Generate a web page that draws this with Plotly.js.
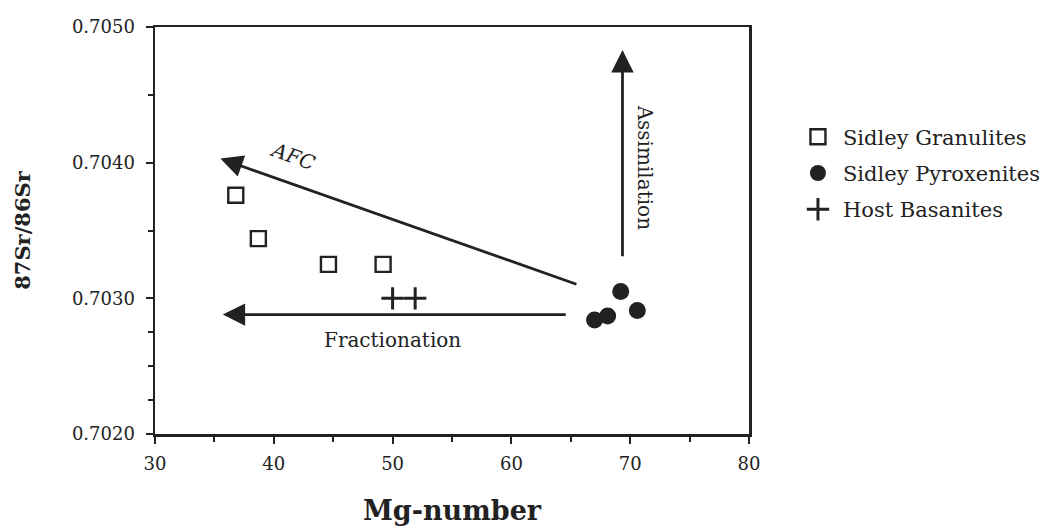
<!DOCTYPE html>
<html>
<head>
<meta charset="utf-8">
<script src="https://cdn.plot.ly/plotly-3.0.1.min.js"></script>
<style>html,body{margin:0;padding:0;background:#fff;}#chart{width:1063px;height:532px;}</style>
</head>
<body>
<div id="chart"></div>
<script>
// Sidley Granulites (open squares)
const granMg = [36.8, 38.7, 44.6, 49.2];
const granSr = [0.70376, 0.70344, 0.70325, 0.70325];
// Sidley Pyroxenites (filled circles)
const pyxMg = [67.0, 68.1, 69.2, 70.6];
const pyxSr = [0.70284, 0.70287, 0.70305, 0.70291];
// Host Basanites (crosses)
const basMg = [50.0, 51.9];
const basSr = [0.70300, 0.70300];

// Process arrows: [tailX, tailY], [headX, headY]
const arrowNames = ["AFC", "Fractionation", "Assimilation"];
const arrowTail = [[65.6, 0.70310], [64.7, 0.70288], [69.35, 0.70330]];
const arrowHead = [[35.5, 0.70403], [35.7, 0.70288], [69.35, 0.70483]];
// Arrow label positions and angles
const labelPos = [[41.6, 0.70405], [50.0, 0.70269], [71.2, 0.70396]];
const labelAngle = [20, 0, 90];

const xTicks = [30, 40, 50, 60, 70, 80];
const yTicks = [0.7020, 0.7030, 0.7040, 0.7050];
const yTickText = ["0.7020", "0.7030", "0.7040", "0.7050"];

const serif = "DejaVu Serif, Liberation Serif, serif";
const ink = "#222";

const traces = [
  {x: granMg, y: granSr, mode: "markers", type: "scatter", name: "Sidley Granulites", legendgroup: "g1",
   marker: {symbol: "square-open", size: 15, color: ink, line: {width: 2.4, color: ink}}},
  {x: pyxMg, y: pyxSr, mode: "markers", type: "scatter", name: "Sidley Pyroxenites", legendgroup: "g2",
   marker: {symbol: "circle", size: 17, color: ink}},
  {x: basMg, y: basSr, mode: "markers", type: "scatter", name: "Host Basanites", legendgroup: "g3",
   marker: {symbol: "cross-thin-open", size: 16, color: ink, line: {width: 3, color: ink}}}
];

const annotations = [];
for (let i = 0; i < arrowNames.length; i++) {
  annotations.push({
    x: arrowHead[i][0], y: arrowHead[i][1], ax: arrowTail[i][0], ay: arrowTail[i][1],
    xref: "x", yref: "y", axref: "x", ayref: "y",
    showarrow: true, arrowhead: 2, arrowsize: 1.6, arrowwidth: 2.8, arrowcolor: ink, text: ""
  });
  annotations.push({
    x: labelPos[i][0], y: labelPos[i][1], xref: "x", yref: "y", showarrow: false,
    text: i === 0 ? "<i>" + arrowNames[i] + "</i>" : arrowNames[i],
    textangle: labelAngle[i], font: {family: serif, size: 20, color: ink}
  });
}

const axisCommon = {
  showline: true, linecolor: ink, linewidth: 2.5, mirror: true,
  showgrid: false, zeroline: false, ticks: "outside", ticklen: 7, tickwidth: 2, tickcolor: ink,
  tickfont: {family: serif, size: 18, color: ink}
};

const layout = {
  width: 1063, height: 532,
  margin: {l: 155, r: 314, t: 27, b: 98},
  paper_bgcolor: "#fff", plot_bgcolor: "#fff",
  showlegend: true,
  legend: {x: 1.074, y: 0.78, xanchor: "left", yanchor: "top", font: {family: serif, size: 21, color: ink},
           bgcolor: "rgba(0,0,0,0)", traceorder: "grouped", tracegroupgap: 6, itemwidth: 40},
  xaxis: Object.assign({}, axisCommon, {
    range: [30, 80], tickvals: xTicks, ticklabelstandoff: 5,
    minor: {tickvals: [35, 45, 55, 65, 75], ticks: "outside", ticklen: 5, tickwidth: 2, tickcolor: ink},
    title: {text: "<b>Mg-number</b>", font: {family: serif, size: 27, color: ink}, standoff: 28}
  }),
  yaxis: Object.assign({}, axisCommon, {
    range: [0.7020, 0.7050], tickvals: yTicks, ticktext: yTickText, ticklabelstandoff: 7,
    minor: {tickvals: [0.70225, 0.7025, 0.70275, 0.7035, 0.7045], ticks: "outside", ticklen: 5, tickwidth: 2, tickcolor: ink},
    title: {text: "<b>87Sr/86Sr</b>", font: {family: serif, size: 21, color: ink}, standoff: 36}
  }),
  annotations: annotations
};

Plotly.newPlot("chart", traces, layout, {displayModeBar: false, staticPlot: true});
</script>
</body>
</html>
